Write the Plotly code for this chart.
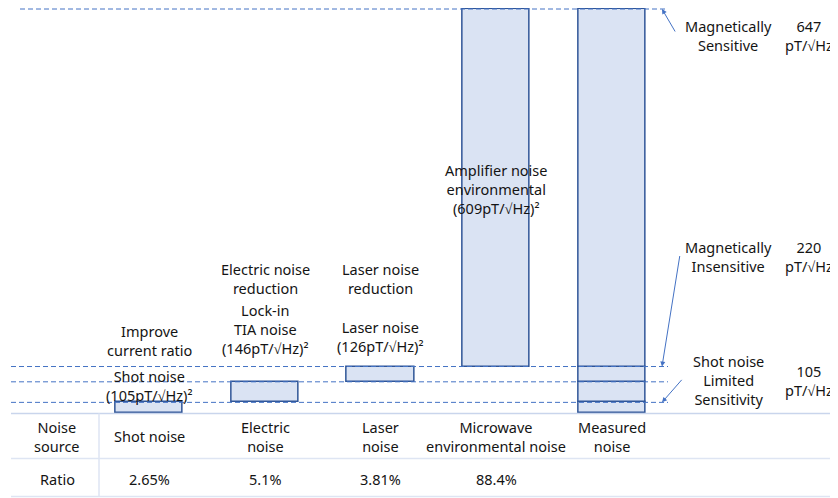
import plotly.graph_objects as go

# ---------------- data ----------------
sources = ["Shot noise", "Electric noise", "Laser noise", "Microwave environmental noise"]
source_table_labels = ["Shot noise", "Electric<br>noise", "Laser<br>noise",
                       "Microwave<br>environmental noise", "Measured<br>noise"]
measured = "Measured noise"
noise_amp = [105, 146, 126, 609]          # pT/√Hz
ratios = ["2.65%", "5.1%", "3.81%", "88.4%"]
level_values = [647, 220, 105]            # pT/√Hz
level_names = ["Magnetically<br>Sensitive", "Magnetically<br>Insensitive",
               "Shot noise<br>Limited<br>Sensitivity"]
bar_notes = ["Shot noise<br>(105pT/√Hz)²", "Lock-in<br>TIA noise<br>(146pT/√Hz)²",
             "Laser noise<br>(126pT/√Hz)²", "Amplifier noise<br>environmental<br>(609pT/√Hz)²"]
action_notes = ["Improve<br>current ratio", "Electric noise<br>reduction",
                "Laser noise<br>reduction"]

# ---------------- derived ----------------
power = [a ** 2 for a in noise_amp]
bases = []
acc = 0
for p in power:
    bases.append(acc)
    acc += p
total = acc
tops = [b + p for b, p in zip(bases, power)]

OFF = 8                      # page body margin
W, H = 838 - OFF, 498 - OFF
def px(x):
    return (x - OFF) / W
def py(y):
    return (H - (y - OFF)) / H

FILL = "#DAE3F3"
EDGE = "#2F5597"
DASH = "#4472C4"
TXT = "#141414"
TABLE = "#C9D5EC"
TABLE2 = "#DEE5F3"
FONT = "Noto Sans"
FS = 14.5

categories = sources + [measured]
fig = go.Figure()
fig.add_trace(go.Bar(
    x=sources + [measured] * len(power),
    y=power + power,
    base=bases + bases,
    width=0.58,
    marker=dict(color=FILL, line=dict(color=EDGE, width=1.5)),
    showlegend=False, hoverinfo="skip",
))

shapes = []
# dashed guide lines at cumulative levels
for t in tops:
    x0 = 20 if t == total else 11
    shapes.append(dict(type="line", xref="paper", yref="y", x0=px(x0), x1=px(668),
                       y0=t, y1=t, line=dict(color=DASH, width=1, dash="5px,3px")))
# table lines
for yy, c in [(413.5, TABLE), (458.5, TABLE2), (496.5, TABLE2)]:
    shapes.append(dict(type="line", xref="paper", yref="paper", x0=px(11), x1=px(830),
                       y0=py(yy), y1=py(yy), line=dict(color=c, width=1.5)))
shapes.append(dict(type="line", xref="paper", yref="paper", x0=px(99), x1=px(99),
                   y0=py(413.5), y1=py(497), line=dict(color=TABLE2, width=1.5)))

ann = []
def text(t, x, yc, xref="paper"):
    ann.append(dict(text=t, x=x, y=py(yc), xref=xref, yref="paper", showarrow=False,
                    xanchor="center", yanchor="middle", align="center",
                    font=dict(family=FONT, size=FS, color=TXT)))

# notes above bars
note_y = [385, 329, 336.5, 189]
for c, t, yy in zip(sources, bar_notes, note_y):
    text(t, c, yy, xref="x")
act_y = [341, 278.5, 278.5]
for c, t, yy in zip(sources[:3], action_notes, act_y):
    text(t, c, yy, xref="x")

# table
text("Noise<br>source", px(57), 436)
text("Ratio", px(57), 479)
for c, t in zip(categories, source_table_labels):
    text(t, c, 436, xref="x")
for c, r in zip(sources, ratios):
    text(r, c, 479, xref="x")

# right-side level labels
lvl_y = [35.5, 256, 380]
for n, v, yy in zip(level_names, level_values, lvl_y):
    text(n, px(728), yy)
    text(f"{v}<br>pT/√Hz", px(809), yy)

# arrows
arrow_targets = [(tops[3], 14, 24), (tops[2], 18, -112), (tops[0], 21, -24)]
for yv, ax, ay in arrow_targets:
    ann.append(dict(text="", x=px(662), y=yv, xref="paper", yref="y", showarrow=True,
                    ax=ax, ay=ay, arrowhead=2, arrowsize=1, arrowwidth=1,
                    arrowcolor=DASH, standoff=0))

ytop_px, ybot_px = 8, 413
fig.update_layout(
    width=W, height=H, margin=dict(l=0, r=0, t=0, b=0),
    paper_bgcolor="white", plot_bgcolor="white",
    bargap=0, barmode="overlay",
    xaxis=dict(domain=[px(91.6), px(669.6)], range=[-0.5, 4.5], visible=False,
               categoryorder="array", categoryarray=categories, type="category"),
    yaxis=dict(domain=[py(ybot_px), py(ytop_px)],
               range=[0, total * (ybot_px - ytop_px) / (ybot_px - 9)], visible=False),
    shapes=shapes, annotations=ann,
    font=dict(family=FONT, color=TXT),
)
fig.write_html("out.html")
